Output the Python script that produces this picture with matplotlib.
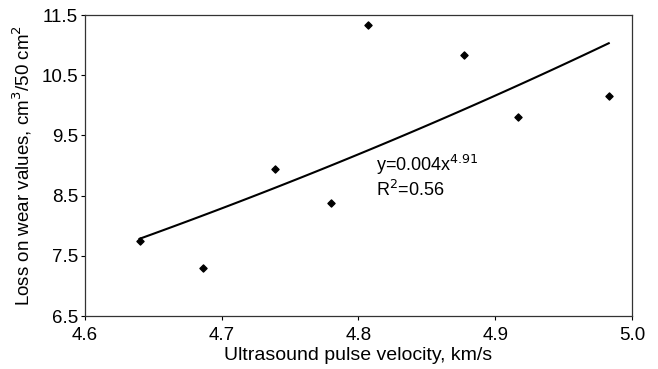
import numpy as np
import matplotlib
matplotlib.use("Agg")
import matplotlib.pyplot as plt

plt.rcParams['font.family'] = ['Liberation Sans', 'DejaVu Sans']

# data
velocity = [4.640, 4.686, 4.739, 4.780, 4.807, 4.877, 4.917, 4.983]
wear_loss = [7.75, 7.30, 8.94, 8.37, 11.33, 10.83, 9.81, 10.15]
x_ticks = [4.6, 4.7, 4.8, 4.9, 5.0]
y_ticks = [6.5, 7.5, 8.5, 9.5, 10.5, 11.5]

x = np.array(velocity)
y = np.array(wear_loss)

# power trendline, fitted in log space
b, ln_a = np.polyfit(np.log(x), np.log(y), 1)
x_fit = np.linspace(x.min(), x.max(), 100)
y_fit = np.exp(ln_a) * x_fit ** b

fig = plt.figure(figsize=(6.58, 3.69), dpi=100)
ax = fig.add_axes([0.129, 0.1436, 0.8315, 0.8157])

ax.plot(x_fit, y_fit, color="black", linewidth=1.5)
ax.scatter(x, y, marker="D", s=13, color="black", zorder=3)

ax.set_xlim(4.6, 5.0)
ax.set_ylim(6.5, 11.5)
ax.set_xticks(x_ticks)
ax.set_xticklabels([f"{t:.1f}" for t in x_ticks])
ax.set_yticks(y_ticks)
ax.set_yticklabels([f"{t:.1f}" for t in y_ticks])
ax.tick_params(axis="both", labelsize=13.5, length=3, width=0.8)
ax.tick_params(axis="x", pad=5)
ax.tick_params(axis="y", pad=2)

for s in ax.spines.values():
    s.set_linewidth(0.9)
    s.set_color("#333333")

ax.set_xlabel("Ultrasound pulse velocity, km/s", fontsize=14, labelpad=2)
ax.set_ylabel("Loss on wear values, cm$^3$/50 cm$^2$", fontsize=13.5, labelpad=5)

ax.text(4.813, 8.82, "y=0.004x$^{4.91}$\nR$^2$=0.56", fontsize=13,
        va="center", ha="left", linespacing=1.15)

fig.savefig("out.png", dpi=100)
